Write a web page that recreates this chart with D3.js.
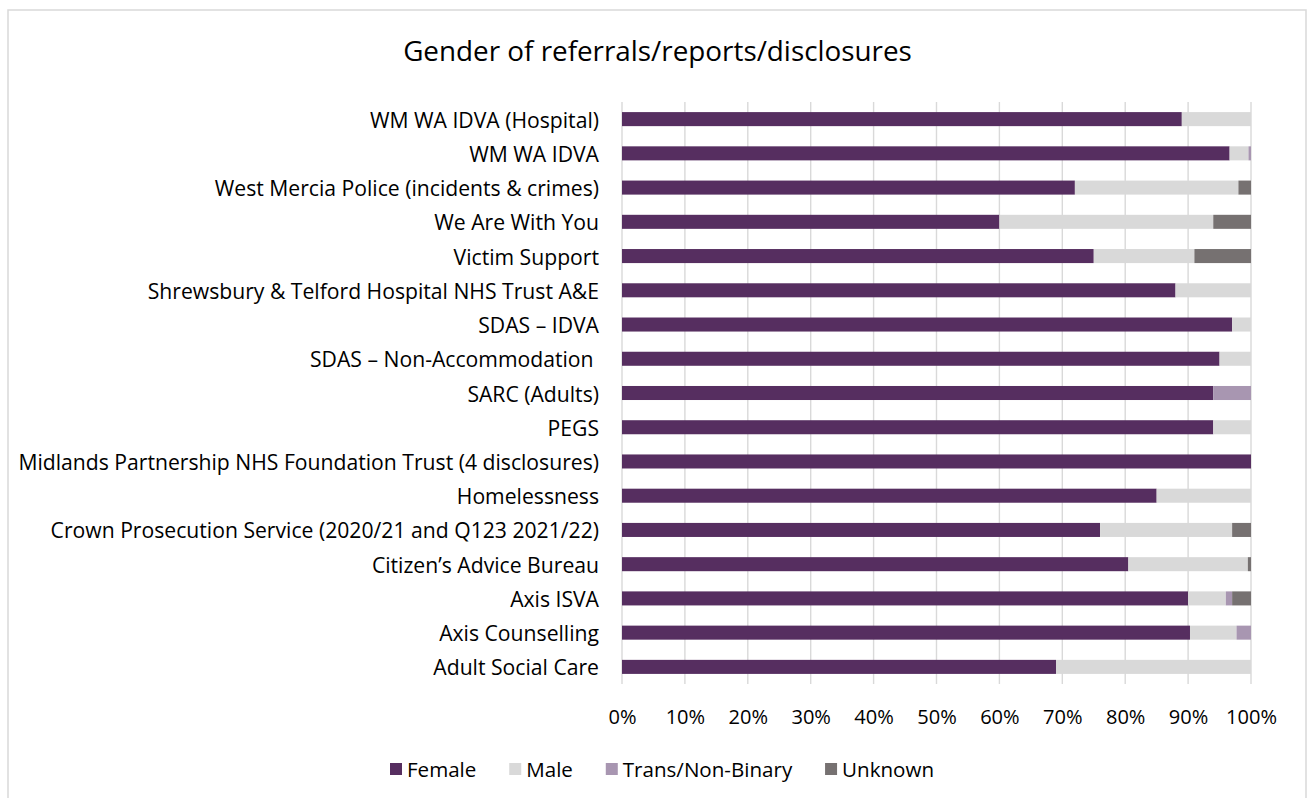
<!DOCTYPE html>
<html><head><meta charset="utf-8">
<script src="https://cdn.jsdelivr.net/npm/d3@7"></script>
<style>body{margin:0;background:#fff}svg{display:block}text{font-family:"Open Sans",sans-serif;fill:#000}</style>
</head><body><svg id="c" width="1308" height="798"></svg>
<script>
const categories = ["WM WA IDVA (Hospital)","WM WA IDVA","West Mercia Police (incidents & crimes)","We Are With You","Victim Support","Shrewsbury & Telford Hospital NHS Trust A&E","SDAS \u2013 IDVA","SDAS \u2013 Non-Accommodation ","SARC (Adults)","PEGS","Midlands Partnership NHS Foundation Trust (4 disclosures)","Homelessness","Crown Prosecution Service (2020/21 and Q123 2021/22)","Citizen\u2019s Advice Bureau","Axis ISVA","Axis Counselling","Adult Social Care"];
const female  = [89, 96.6, 72, 60, 75, 88, 97, 95, 94, 94, 100, 85, 76, 80.5, 90, 90.3, 69];
const male    = [11, 3.0, 26, 34, 16, 12, 3, 5, 0, 6, 0, 15, 21, 19, 6, 7.4, 31];
const trans   = [0, 0.4, 0, 0, 0, 0, 0, 0, 6, 0, 0, 0, 0, 0, 1, 2.3, 0];
const unknown = [0, 0, 2, 6, 9, 0, 0, 0, 0, 0, 0, 0, 3, 0.5, 3, 0, 0];
const seriesNames = ["Female","Male","Trans/Non-Binary","Unknown"];
const colors = ["#562e60","#d9d9d9","#a896b1","#767171"];
const tickValues = [0,0.1,0.2,0.3,0.4,0.5,0.6,0.7,0.8,0.9,1];
const title = "Gender of referrals/reports/disclosures";

const svg = d3.select("#c");
function fit(sel, target){ // scale font-size so text width matches target
  sel.style("font-size","100px");
  const w = sel.node().getComputedTextLength();
  const fs = 100*target/w;
  sel.style("font-size", fs+"px");
  return fs;
}
svg.append("rect").attr("x",8).attr("y",10).attr("width",1298).attr("height",800)
  .attr("fill","#fff").attr("stroke","#d9d9d9").attr("stroke-width",1.5);

const t = svg.append("text").attr("x",657.5).attr("y",50).attr("text-anchor","middle")
  .attr("dominant-baseline","central").text(title);
fit(t,509);

const x = d3.scaleLinear().domain([0,1]).range([622,1251]);
const y = d3.scaleBand().domain(categories).range([102,684]).paddingInner(0.59).paddingOuter(0.295);

// gridlines
svg.append("g").selectAll("line").data(tickValues).join("line")
  .attr("x1",d=>x(d)).attr("x2",d=>x(d)).attr("y1",102).attr("y2",684)
  .attr("stroke","#d9d9d9").attr("stroke-width",1.4);

const rows = categories.map((c,i)=>({cat:c, Female:female[i]/100, Male:male[i]/100, "Trans/Non-Binary":trans[i]/100, Unknown:unknown[i]/100}));
const stacked = d3.stack().keys(seriesNames)(rows);
svg.append("g").selectAll("g").data(stacked).join("g").attr("fill",(d,i)=>colors[i])
  .selectAll("rect").data(d=>d).join("rect")
  .attr("x",d=>x(d[0])).attr("width",d=>Math.max(0,x(d[1])-x(d[0])))
  .attr("y",d=>y(d.data.cat)).attr("height",y.bandwidth());

// category labels
const lab = svg.append("g").selectAll("text").data(categories).join("text")
  .attr("x",599).attr("y",d=>y(d)+y.bandwidth()/2).attr("text-anchor","end")
  .attr("dominant-baseline","central").style("white-space","pre").text(d=>d);
const crown = lab.filter(d=>d.startsWith("Crown"));
const lfs = fit(crown,549);
lab.style("font-size",lfs+"px");

// x axis tick labels
const xAxis = d3.axisBottom(x).tickValues(tickValues).tickFormat(d3.format(".0%")).tickSize(0).tickPadding(0);
const ax = svg.append("g").attr("transform","translate(0,705)").call(xAxis);
ax.select(".domain").remove();
ax.selectAll("text").attr("dy",null).attr("dominant-baseline","central").attr("y",11)
  .style("font-family","'Open Sans',sans-serif").attr("fill","#000");
const last = ax.selectAll("text").filter(d=>d===1);
const tfs = fit(last,51);
ax.selectAll("text").style("font-size",tfs+"px");

// legend
const lg = svg.append("g");
const items = lg.selectAll("g").data(seriesNames).join("g");
items.append("rect").attr("width",12).attr("height",12).attr("y",-6).attr("fill",(d,i)=>colors[i]);
const ltxt = items.append("text").attr("x",17).attr("dominant-baseline","central").text(d=>d);
const lgfs = fit(ltxt.filter(d=>d==="Unknown"),92);
ltxt.style("font-size",lgfs+"px");
const widths = [];
ltxt.each(function(){widths.push(17 + this.getComputedTextLength());});
const span = 934 - 390;
const gap = (span - d3.sum(widths)) / (widths.length - 1);
const pos = []; let cx = 390;
widths.forEach(w=>{pos.push(cx); cx += w + gap;});
items.attr("transform",(d,i)=>`translate(${pos[i]},769)`);
</script></body></html>
